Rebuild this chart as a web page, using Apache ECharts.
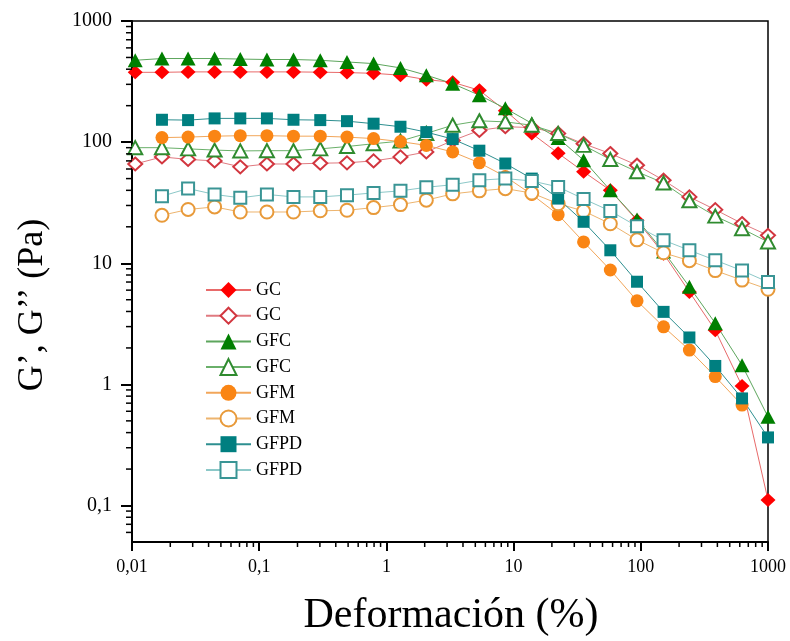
<!DOCTYPE html>
<html>
<head>
<meta charset="utf-8">
<script src="https://cdn.jsdelivr.net/npm/echarts@6/dist/echarts.min.js"></script>
<style>
html, body { margin: 0; padding: 0; background: #fff; }
#main { width: 790px; height: 641px; }
</style>
</head>
<body>
<div id="main"></div>
<script>
// deformación (%) - same sweep for every sample
var strain = [0.0106, 0.0172, 0.0276, 0.0446, 0.0710, 0.115, 0.186, 0.302, 0.490, 0.793,
              1.29, 2.06, 3.32, 5.38, 8.61, 13.9, 22.4, 35.5, 57.6, 93.4,
              151, 241, 385, 625, 1000];

// G' (relleno) y G'' (vacío), Pa
var gcG1   = [377, 377, 380, 380, 380, 380, 380, 378, 375, 370, 357, 328, 312, 268, 182, 118, 81, 57, 40, 22.5, 12, 5.8, 2.8, 0.97, 0.111];
var gcG2   = [66, 75.5, 72, 70, 62.5, 66, 66, 67, 67.5, 70, 75.5, 83, 103, 125, 134, 132, 118, 97, 80.5, 64.5, 48.5, 35.3, 27.7, 21.3, 17];
var gfcG1  = [474, 490, 490, 490, 485, 481, 481, 474, 459, 445, 410, 357, 304, 244, 190, 143, 108, 71, 40, 23, 12.5, 6.4, 3.2, 1.44, 0.54];
var gfcG2  = [90, 90, 88, 86, 84.6, 85, 85, 88, 92, 97, 102, 118, 138, 150, 147, 138, 118, 94, 72, 57, 46, 32.8, 24.5, 19.3, 15];
var gfmG1  = [null, 109, 110, 112, 113, 113, 112, 112, 110, 107, 101, 94, 83, 67.5, 52, 37, 25.2, 15, 8.8, 4.9, 2.99, 1.92, 1.16, 0.675, null];
var gfmG2  = [null, 24.9, 27.8, 29.2, 26.5, 26.5, 26.5, 27.1, 27.4, 28.8, 30.5, 33.2, 37.4, 39.6, 41.3, 38, 31, 27, 21.2, 15.6, 12.2, 10.5, 8.7, 7.26, 6.1];
var gfpdG1 = [null, 153, 152, 157, 157, 157, 153, 152, 149, 142, 134, 121, 106, 85, 66.6, 50, 34.2, 22, 12.8, 7.04, 3.97, 2.44, 1.42, 0.766, 0.365];
var gfpdG2 = [null, 35.8, 41.4, 37, 34.7, 37, 35.3, 35.3, 36.5, 38.1, 39.6, 42.4, 44.5, 48.5, 50, 47.8, 42.7, 34, 27, 20.2, 15.5, 12.8, 10.6, 8.7, 7.0];

var xTicks = [0.01, 0.1, 1, 10, 100, 1000];
var yTicks = [0.1, 1, 10, 100, 1000];
var xMin = 0.01, xMax = 1000, yMin = 0.05, yMax = 1000;

// minor ticks 2..9 per decade
function minorTicks(lo, hi) {
    var out = [];
    for (var d = -3; d <= 3; d++) {
        for (var m = 2; m <= 9; m++) {
            var v = parseFloat((m * Math.pow(10, d)).toPrecision(3));
            if (v > lo && v < hi) out.push(v);
        }
    }
    return out;
}
var xMinor = minorTicks(xMin, xMax);
var yMinor = minorTicks(yMin, yMax);

var font = 'Liberation Serif';

function pairs(ys) {
    var out = [];
    for (var i = 0; i < strain.length; i++) {
        if (ys[i] != null) out.push([strain[i], ys[i]]);
    }
    return out;
}

function comma(v) {
    return String(+(+v).toPrecision(6)).replace('.', ',');
}

function mk(name, ys, symbol, size, color, lineColor, empty) {
    return {
        name: name,
        type: 'line',
        data: pairs(ys),
        symbol: symbol,
        symbolSize: size,
        showSymbol: true,
        clip: true,
        itemStyle: { color: color, borderWidth: empty ? 1.3 : 0 },
        lineStyle: { color: lineColor, width: 1 }
    };
}

// short minor ticks, placed through the axis scales (dx/dy = direction outward)
function minorTickSeries(data, dx, dy) {
    return {
        type: 'custom',
        coordinateSystem: 'cartesian2d',
        silent: true,
        clip: false,
        z: 5,
        encode: { x: 0, y: 1 },
        data: data,
        renderItem: function (params, api) {
            var p = api.coord([api.value(0), api.value(1)]);
            return {
                type: 'line',
                shape: { x1: p[0], y1: p[1], x2: p[0] + dx, y2: p[1] + dy },
                style: { stroke: '#000', lineWidth: 1.5 }
            };
        }
    };
}

var myChart = echarts.init(document.getElementById('main'));

var option = {
    animation: false,
    backgroundColor: '#fff',
    grid: {
        left: 132, right: 22, top: 21, bottom: 99,
        show: true, borderColor: '#000', borderWidth: 1.5
    },
    legend: {
        orient: 'vertical',
        left: 200,
        top: 276,
        itemWidth: 45,
        itemHeight: 20,
        itemGap: 7.7,
        selectedMode: false,
        textStyle: { fontFamily: font, fontSize: 18, lineHeight: 18, color: '#000' },
        formatter: function (name) { return name.replace(/'/g, ''); },
        data: ["GC'", "GC''", "GFC'", "GFC''", "GFM'", "GFM''", "GFPD'", "GFPD''"]
    },
    xAxis: {
        type: 'log', logBase: 10, min: xMin, max: xMax,
        axisLine: { lineStyle: { color: '#000', width: 2 } },
        axisTick: { customValues: xTicks, length: 9, lineStyle: { color: '#000', width: 2 } },
        axisLabel: { customValues: xTicks, formatter: comma, margin: 16,
                     fontFamily: font, fontSize: 18, color: '#000' },
        splitLine: { show: false }
    },
    yAxis: {
        type: 'log', logBase: 10, min: yMin, max: yMax,
        axisLine: { show: true, lineStyle: { color: '#000', width: 2 } },
        axisTick: { show: true, customValues: yTicks, length: 11, lineStyle: { color: '#000', width: 2 } },
        axisLabel: { customValues: yTicks, formatter: comma, margin: 20,
                     fontFamily: font, fontSize: 20, color: '#000' },
        splitLine: { show: false }
    },
    graphic: [
        {
            type: 'text', x: 33, y: 305, rotation: Math.PI / 2,
            style: { text: 'G\u2019, G\u2019\u2019 (Pa)', fontFamily: font, fontSize: 36,
                     fill: '#000', align: 'center', verticalAlign: 'middle' }
        },
        {
            type: 'text', x: 451, y: 616,
            style: { text: 'Deformación (%)', fontFamily: font, fontSize: 42,
                     fill: '#000', align: 'center', verticalAlign: 'middle' }
        }
    ],
    series: [
        mk("GC'",    gcG1,   'diamond',       [15, 14], '#FF0000', '#E86A6A', false),
        mk("GC''",   gcG2,   'emptyDiamond',  [14, 13], '#D2363F', '#E07A80', true),
        mk("GFC'",   gfcG1,  'triangle',      [15, 14], '#007F00', '#5DA65D', false),
        mk("GFC''",  gfcG2,  'emptyTriangle', [14, 13], '#2F8B2F', '#6AB06A', true),
        mk("GFM'",   gfmG1,  'circle',        13,      '#FA8514', '#F2A65A', false),
        mk("GFM''",  gfmG2,  'emptyCircle',   13,      '#E89A3A', '#EDB46E', true),
        mk("GFPD'",  gfpdG1, 'rect',          12,      '#007F80', '#2E8F90', false),
        mk("GFPD''", gfpdG2, 'emptyRect',     12,      '#3A9595', '#8CC8C8', true),
        minorTickSeries(xMinor.map(function (v) { return [v, yMin]; }), 0, 5),
        minorTickSeries(yMinor.map(function (v) { return [xMin, v]; }), -6, 0)
    ]
};

myChart.setOption(option);
</script>
</body>
</html>
